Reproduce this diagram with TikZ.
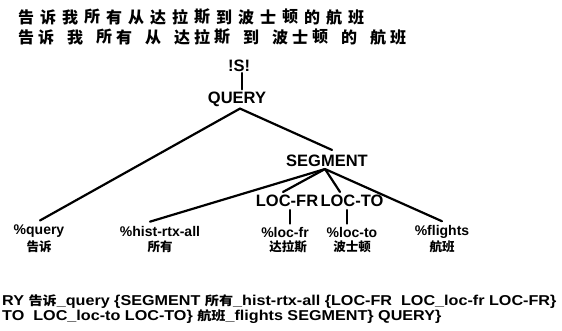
\documentclass[tikz,border=0pt]{standalone}
\usepackage{fontspec}
\setmainfont{Liberation Sans}
\newfontfamily\cjk{Noto Sans CJK SC}
\newcommand\bcjk{\cjk\bfseries\fontsize{12.5}{12.5}\selectfont}
\begin{document}
\begin{tikzpicture}[x=1pt,y=-1pt,
  every node/.style={inner sep=0pt,font=\bfseries},
  head/.style={font=\cjk\bfseries\fontsize{16}{16}\selectfont},
  cat/.style={font=\bfseries\fontsize{16.5}{16.5}\selectfont},
  leaf/.style={font=\bfseries\fontsize{14}{14}\selectfont},
  cword/.style={font=\cjk\bfseries\fontsize{12.5}{12.5}\selectfont},
  bottomtext/.style={anchor=west,font=\bfseries\fontsize{14.3}{14.3}\selectfont},
  branch/.style={line width=2.2pt,line cap=round}]
\useasboundingbox (0,0) rectangle (562,331);
% heading lines
\foreach \c [count=\i] in {告,诉,我,所,有,从,达,拉,斯,到,波,士,顿,的,航,班}
  \node[head] (ha\i) at ({4+22*\i},17) {\c};
\foreach \c/\x [count=\i] in {告/26,诉/46,我/75,所/104,有/124,从/153,达/182,拉/202,斯/222,到/251,波/280,士/300,顿/320,的/349,航/378,班/398}
  \node[head] (hb\i) at (\x,37) {\c};
% tree
\node[cat] (hs) at (239,66) {!S!};
\node[cat] (hq) at (237,99) {QUERY};
\node[cat] (hseg) at (327,161) {SEGMENT};
\node[cat] (lfr) at (287,201) {LOC-FR};
\node[cat] (lto) at (352,201) {LOC-TO};
\node[leaf] (pq) at (39,231) {\%query};
\node[cword] (cq) at (39,247) {告诉};
\node[leaf] (ph) at (160,231) {\%hist-rtx-all};
\node[cword] (ch) at (160,247) {所有};
\node[leaf] (pfr) at (285,232) {\%loc-fr};
\node[cword] (cfr) at (288,247) {达拉斯};
\node[leaf] (pto) at (352,232) {\%loc-to};
\node[cword] (cto) at (352,247) {波士顿};
\node[leaf] (pfl) at (442,232) {\%flights};
\node[cword] (cfl) at (442,247) {航班};
\draw[branch] ([xshift=3,yshift=-1]hs.south) -- ([xshift=3,yshift=2]hs.south |- hq.north);
\draw[branch] ([xshift=3,yshift=-2]hq.south) -- ([xshift=1,yshift=4]pq.north);
\draw[branch] ([xshift=3,yshift=-2]hq.south) -- ([xshift=5,yshift=5]hseg.north);
\draw[branch] ([xshift=-2,yshift=-2]hseg.south) -- ([xshift=-10,yshift=4]ph.north);
\draw[branch] ([xshift=-2,yshift=-2]hseg.south) -- ([xshift=-4,yshift=3]lfr.north);
\draw[branch] ([xshift=-2,yshift=-2]hseg.south) -- ([xshift=-12,yshift=3]lto.north);
\draw[branch] ([xshift=-2,yshift=-2]hseg.south) -- ([yshift=4]pfl.north);
\draw[branch] ([xshift=3,yshift=-3]lfr.south) -- ([xshift=3,yshift=3]lfr.south |- pfr.north);
\draw[branch] ([xshift=-5,yshift=-3]lto.south) -- ([xshift=-5,yshift=3]lto.south |- pto.north);
% bottom bracketed string
\node[bottomtext] (b1) at (2,302) {\scalebox{1.13}[1]{RY {\bcjk 告诉}\_query \{SEGMENT {\bcjk 所有}\_hist-rtx-all \{LOC-FR\ \ LOC\_loc-fr LOC-FR\}}};
\node[bottomtext] (b2) at (2,317) {\scalebox{1.13}[1]{TO\ \ LOC\_loc-to LOC-TO\} {\bcjk 航班}\_flights SEGMENT\} QUERY\}}};
\end{tikzpicture}
\end{document}
